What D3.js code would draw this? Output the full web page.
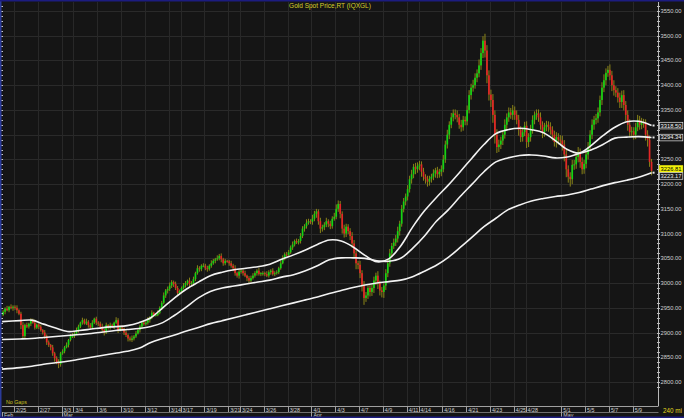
<!DOCTYPE html>
<html><head><meta charset="utf-8">
<script src="https://cdn.jsdelivr.net/npm/d3@7"></script>
<style>html,body{margin:0;padding:0;background:#141414;overflow:hidden}svg{display:block}</style>
</head><body><svg id="c" width="684" height="418"></svg>
<script>
// ---------- DATA ----------
const title = "Gold Spot Price,RT (IQXGL)";
const firstOpen = 2936;
const days = ["2/24","2/25","2/26","2/27","2/28","3/3","3/4","3/5","3/6","3/7","3/10","3/11","3/12","3/13","3/14",
"3/17","3/18","3/19","3/20","3/21","3/24","3/25","3/26","3/27","3/28","3/31","4/1","4/2","4/3","4/4",
"4/7","4/8","4/9","4/10","4/11","4/14","4/15","4/16","4/17","4/21","4/22","4/23","4/24","4/25",
"4/28","4/29","4/30","5/1","5/2","5/5","5/6","5/7","5/8","5/9","5/12"];
// 240-minute closes, one row per trading day
const closeRows = [
[2942,2948,2945,2952,2950,2952],[2950,2945,2938,2915,2893,2915],[2912,2918,2925,2920,2910,2916],[2912,2905,2900,2893,2880,2875],[2870,2858,2848,2840,2836,2858],
[2862,2870,2875,2885,2893,2893],[2898,2905,2912,2920,2925,2918],[2922,2915,2910,2920,2928,2920],[2918,2912,2905,2900,2915,2910],[2915,2912,2920,2925,2905,2910],
[2908,2900,2895,2888,2885,2888],[2892,2898,2905,2912,2920,2917],[2920,2925,2930,2940,2935,2935],[2940,2950,2960,2975,2985,2988],[2995,3002,2998,2990,2980,2984],
[2990,2995,3000,3005,2998,3000],[3008,3020,3030,3028,3035,3035],[3030,3028,3035,3040,3045,3048],[3050,3055,3048,3040,3045,3044],[3040,3035,3030,3020,3015,3023],
[3025,3020,3015,3010,3005,3010],[3015,3020,3025,3018,3020,3020],[3018,3015,3022,3025,3018,3020],[3022,3030,3040,3050,3058,3057],[3062,3072,3078,3085,3082,3085],
[3095,3110,3115,3122,3125,3124],[3130,3140,3145,3125,3110,3113],[3118,3125,3120,3115,3130,3134],[3150,3160,3140,3110,3100,3114],[3105,3095,3080,3060,3040,3037],
[3020,2995,2970,2975,2990,2982],[2990,3005,3015,3000,2985,2982],[2995,3020,3040,3060,3075,3082],[3090,3105,3120,3150,3165,3175],[3190,3210,3220,3235,3230,3237],
[3240,3225,3215,3210,3205,3211],[3215,3222,3228,3220,3225,3230],[3250,3280,3300,3320,3335,3343],[3340,3335,3320,3315,3330,3327],
[3350,3380,3395,3400,3415,3424],[3440,3465,3490,3470,3420,3381],[3370,3340,3300,3275,3280,3288],[3300,3320,3335,3345,3340,3349],[3340,3330,3310,3295,3305,3318],
[3285,3295,3310,3330,3340,3343],[3335,3320,3305,3315,3320,3316],[3310,3300,3285,3295,3290,3288],[3280,3260,3230,3215,3210,3239],[3240,3255,3265,3245,3230,3241],
[3260,3275,3300,3320,3330,3333],[3345,3370,3395,3410,3425,3431],[3420,3400,3390,3385,3375,3366],[3380,3360,3340,3320,3305,3307],[3300,3315,3330,3320,3325,3324],
[3300,3290,3245,3226.81]
];
const upWick = [
[4,3,6,2,5,3],[3,5,2,4,6,3],[5,2,4,3,6,2],[3,4,2,5,3,4],[2,5,3,4,6,3],
[4,3,5,2,4,6],[3,5,4,2,5,3],[6,3,4,5,2,4],[3,4,6,3,5,2],[5,3,2,6,4,3],
[4,2,5,3,4,6],[3,5,2,4,3,5],[4,6,3,5,2,4],[5,3,4,6,3,5],[6,4,3,5,4,3],
[3,5,4,2,6,4],[5,3,6,4,3,5],[4,5,3,6,4,3],[6,4,5,3,4,2],[3,5,4,6,3,4],
[4,3,5,2,4,5],[5,4,3,6,2,4],[3,6,4,3,5,4],[4,3,5,6,4,5],[5,4,6,3,5,4],
[6,5,4,7,5,4],[8,6,5,4,7,5],[5,7,4,6,5,8],[9,7,6,5,8,6],[5,6,8,7,6,5],
[8,6,9,7,5,6],[7,8,6,9,5,7],[6,8,7,9,6,8],[7,9,6,8,7,6],[8,7,9,6,8,7],
[7,6,8,5,7,6],[6,8,5,7,6,8],[9,8,10,7,9,8],[8,9,7,10,8,7],
[9,10,8,11,9,8],[12,10,9,14,11,10],[10,12,9,11,10,8],[9,11,8,10,9,11],[8,9,10,7,9,8],
[9,8,10,9,7,8],[8,10,7,9,8,7],[9,7,8,10,8,9],[10,9,11,8,9,10],[9,8,10,7,9,8],
[8,10,9,11,8,9],[10,9,11,12,9,8],[11,9,10,8,9,10],[9,10,8,9,11,9],[8,9,10,8,9,7],
[7,9,8,6]
];
const downWick = [
[3,5,2,4,3,6],[4,6,3,8,5,4],[3,4,5,2,4,3],[5,3,4,6,5,4],[6,5,7,4,8,5],
[3,4,2,5,3,4],[4,3,5,3,4,2],[3,5,4,2,3,5],[5,3,4,6,3,4],[4,2,5,3,6,3],
[3,5,4,6,3,4],[4,3,2,5,4,3],[3,4,5,3,4,2],[2,3,4,3,5,6],[4,5,6,4,5,3],
[5,3,4,5,6,4],[3,4,3,5,4,3],[4,5,3,4,3,5],[3,4,6,5,4,3],[5,4,6,5,4,6],
[4,5,3,6,5,4],[3,4,5,3,4,5],[4,3,4,5,3,4],[3,4,3,2,4,3],[4,3,5,4,3,4],
[5,4,6,5,4,5],[6,5,8,7,9,6],[6,5,7,6,5,4],[5,6,9,10,8,7],[6,8,9,10,12,9],
[10,12,14,8,7,9],[8,10,9,12,10,11],[12,9,8,7,8,6],[7,8,9,6,7,8],[8,7,9,8,10,7],
[9,10,8,9,10,8],[8,7,9,8,7,9],[6,7,8,9,7,8],[9,10,8,9,7,8],
[8,7,9,8,7,9],[8,9,10,14,16,12],[14,16,18,12,10,9],[9,8,10,9,8,10],[10,9,12,10,9,8],
[12,10,9,8,9,10],[9,10,12,9,8,10],[10,12,9,11,10,9],[12,14,16,12,15,10],[10,9,11,12,10,9],
[9,10,8,9,10,9],[9,8,10,9,10,8],[10,12,11,9,10,12],[12,11,13,12,10,9],[10,9,8,10,9,10],
[12,14,10,9]
];
// moving averages, one value per trading day
const maFast = [2922,2924,2925,2917,2909,2902,2904,2907,2910,2912,2914,2920,2930,2950,2970,2988,3002,3015,3022,3027,
3030,3033,3038,3048,3057,3067,3078,3087,3085,3073,3056,3043,3049,3075,3113,3146,3173,3198,3225,3253,
3280,3302,3310,3313,3310,3304,3288,3270,3263,3278,3298,3315,3326,3327,3318.5];
const maMid = [2886,2887,2888,2890,2892,2894,2896,2898,2901,2904,2906,2908,2912,2920,2935,2952,2970,2983,2990,2994,
2998,3002,3006,3012,3017,3025,3035,3047,3051,3051,3050,3045,3044,3050,3070,3095,3125,3148,3175,3200,
3225,3245,3253,3258,3259,3257,3253,3255,3262,3269,3280,3293,3295,3296,3294.34];
const maSlow = [2826,2829,2832,2836,2839,2842,2846,2850,2854,2858,2862,2868,2880,2888,2895,2903,2910,2918,2924,2930,
2936,2942,2948,2954,2960,2966,2972,2979,2985,2991,2996,3000,3003,3006,3013,3024,3036,3052,3072,3093,
3114,3131,3148,3158,3166,3171,3175,3178,3183,3190,3197,3203,3208,3214,3223.17];
const yTicks = [2800,2850,2900,2950,3000,3050,3100,3150,3200,3250,3300,3350,3400,3450,3500,3550];
const dateLabels = ["2/25","2/27","3/3","3/4","3/6","3/10","3/12","3/14","3/17","3/19","3/21","3/24","3/26","3/28",
"4/1","4/3","4/7","4/9","4/11","4/14","4/16","4/21","4/23","4/25","4/28","5/1","5/5","5/7","5/9"];
const monthNames = ["Feb","Mar","Apr","May"];
const monthStarts = ["2/24","3/3","4/1","5/1"];
const lastValues = [3318.50, 3294.34, 3226.81, 3223.17];
const barsPerDay = 6, totalSlots = 330;

// ---------- BUILD ----------
const bars = [];
let prev = firstOpen;
closeRows.forEach((row, d) => row.forEach((c, k) => {
  const o = prev;
  bars.push({i: d*barsPerDay + k, o, c, h: Math.max(o,c) + upWick[d][k], l: Math.min(o,c) - downWick[d][k]});
  prev = c;
}));

const W = 684, H = 418;
const plotL = 2.1, plotR = 656.5, plotB = 406, axisX = 658.5;
const x = d3.scaleLinear().domain([0, totalSlots]).range([plotL, plotR]);
const y = d3.scaleLinear().domain([2800, 3550]).range([382, 11]);
const FONT = "'Liberation Sans', Arial, sans-serif";

const svg = d3.select("#c");
svg.append("rect").attr("width", W).attr("height", H).attr("fill", "#151515");

// grid
svg.append("g").selectAll("line").data(yTicks).join("line")
  .attr("x1", plotL).attr("x2", axisX).attr("y1", d => Math.round(y(d)) + 0.5).attr("y2", d => Math.round(y(d)) + 0.5)
  .attr("stroke", "#2a2a2a").attr("stroke-width", 1);
const dayX = s => x(days.indexOf(s) * barsPerDay);
svg.append("g").selectAll("line").data(dateLabels).join("line")
  .attr("x1", d => Math.round(dayX(d)) + 0.5).attr("x2", d => Math.round(dayX(d)) + 0.5)
  .attr("y1", 2).attr("y2", plotB).attr("stroke", "#282828").attr("stroke-width", 1);

// candles
const cg = svg.append("g");
cg.selectAll("rect.w").data(bars).join("rect").attr("class", "w")
  .attr("x", d => x(d.i + 0.5) - 0.5).attr("width", 1)
  .attr("y", d => y(d.h)).attr("height", d => Math.max(1, y(d.l) - y(d.h)))
  .attr("fill", "#8a8418");
cg.selectAll("rect.b").data(bars).join("rect").attr("class", "b")
  .attr("x", d => x(d.i + 0.5) - 0.85).attr("width", 1.7)
  .attr("y", d => y(Math.max(d.o, d.c))).attr("height", d => Math.max(1, Math.abs(y(d.o) - y(d.c))))
  .attr("fill", d => d.c >= d.o ? "#14d414" : "#e42626");

// moving averages
const maPos = d => d === 0 ? 0 : (d === days.length - 1 ? bars[bars.length-1].i + 0.5 : d * barsPerDay + 3);
const line = d3.line().x((v, d) => x(maPos(d))).y(v => y(v)).curve(d3.curveCatmullRom);
[maFast, maMid, maSlow].forEach(ma => {
  svg.append("path").attr("d", line(ma)).attr("fill", "none").attr("stroke", "#f2f2f2").attr("stroke-width", 1.6);
});
// small end markers
svg.append("g").selectAll("rect").data([lastValues[0], lastValues[1], lastValues[3]]).join("rect")
  .attr("x", x(bars[bars.length-1].i + 0.5) + 1).attr("y", d => y(d) - 1).attr("width", 2).attr("height", 2).attr("fill", "#e8e8e8");

// right axis
svg.append("rect").attr("x", axisX).attr("y", 0).attr("width", W - axisX).attr("height", H).attr("fill", "#151515");
svg.append("line").attr("x1", axisX).attr("x2", axisX).attr("y1", 2).attr("y2", plotB).attr("stroke", "#b8b8b8");
const minor = d3.range(2790, 3561, 10);
svg.append("g").selectAll("line").data(minor).join("line")
  .attr("x1", axisX - 1.5).attr("x2", axisX + 1.5).attr("y1", d => Math.round(y(d)) + 0.5).attr("y2", d => Math.round(y(d)) + 0.5)
  .attr("stroke", "#bdbdbd");

// last value label positions (nudged apart where they collide)
const labY = [y(lastValues[0]), y(lastValues[1]), y(lastValues[2]) - 2, y(lastValues[2]) + 5];
const visibleTicks = yTicks.filter(t => labY.every(ly => Math.abs(y(t) - ly) > 6));
svg.append("g").selectAll("text").data(visibleTicks).join("text")
  .attr("x", axisX + 2).attr("y", d => y(d) + 2).text(d => d3.format(".2f")(d))
  .attr("font-family", FONT).attr("font-size", 5.8).attr("fill", "#d0d0d0");

lastValues.forEach((v, k) => {
  const yy = labY[k];
  svg.append("rect").attr("x", axisX + 0.8).attr("y", yy - 3.2).attr("width", 23.5).attr("height", 6.6)
    .attr("fill", k === 2 ? "#f2f20a" : "#1a1a1a").attr("stroke", k === 2 ? "#f2f20a" : "#e0e0e0").attr("stroke-width", 0.7);
  svg.append("text").attr("x", axisX + 2).attr("y", yy + 2).text(d3.format(".2f")(v))
    .attr("font-family", FONT).attr("font-size", 5.8).attr("fill", k === 2 ? "#000" : "#f0f0f0");
});

// left edge
svg.append("line").attr("x1", 0.75).attr("x2", 0.75).attr("y1", 0).attr("y2", H).attr("stroke", "#2a3a9a").attr("stroke-width", 1.5);
svg.append("g").selectAll("line").data(minor).join("line")
  .attr("x1", 1.5).attr("x2", 3).attr("y1", d => Math.round(y(d)) + 0.5).attr("y2", d => Math.round(y(d)) + 0.5)
  .attr("stroke", "#c8c8d8");

// bottom axis
svg.append("line").attr("x1", plotL).attr("x2", axisX).attr("y1", plotB + 0.5).attr("y2", plotB + 0.5).attr("stroke", "#a0a0a0");
svg.append("g").selectAll("line").data(dateLabels).join("line")
  .attr("x1", d => Math.round(dayX(d)) + 0.5).attr("x2", d => Math.round(dayX(d)) + 0.5)
  .attr("y1", plotB).attr("y2", plotB + 6).attr("stroke", "#a0a0a0");
svg.append("g").selectAll("text").data(dateLabels).join("text")
  .attr("x", d => dayX(d) + 2).attr("y", plotB + 5.5).text(d => d)
  .attr("font-family", FONT).attr("font-size", 5.3).attr("fill", "#cfcfcf");
svg.append("line").attr("x1", plotL).attr("x2", axisX).attr("y1", plotB + 6.5).attr("y2", plotB + 6.5).attr("stroke", "#707070");
svg.append("g").selectAll("text").data(monthNames).join("text")
  .attr("x", (d, k) => dayX(monthStarts[k]) + 2).attr("y", plotB + 11.3).text(d => d)
  .attr("font-family", FONT).attr("font-size", 5.3).attr("fill", "#cfcfcf");
svg.append("g").selectAll("line").data(monthStarts).join("line")
  .attr("x1", d => Math.round(dayX(d)) + 0.5).attr("x2", d => Math.round(dayX(d)) + 0.5)
  .attr("y1", plotB + 6).attr("y2", plotB + 12).attr("stroke", "#a0a0a0");

// texts
svg.append("text").attr("x", 330).attr("y", 7.5).attr("text-anchor", "middle").text(title)
  .attr("font-family", FONT).attr("font-size", 6.5).attr("fill", "#d8cf2a");
svg.append("text").attr("x", 6).attr("y", plotB - 2).text("No Gaps")
  .attr("font-family", FONT).attr("font-size", 5.3).attr("fill", "#c8c020");
svg.append("text").attr("x", 663).attr("y", 413).text("240 mi")
  .attr("font-family", FONT).attr("font-size", 6.3).attr("fill", "#e0d820");

// frame
svg.append("line").attr("x1", 0).attr("x2", W).attr("y1", 0.75).attr("y2", 0.75).attr("stroke", "#1c1c80").attr("stroke-width", 1.5);
svg.append("line").attr("x1", 0).attr("x2", W).attr("y1", H - 0.75).attr("y2", H - 0.75).attr("stroke", "#1c1c80").attr("stroke-width", 1.5);
</script></body></html>
